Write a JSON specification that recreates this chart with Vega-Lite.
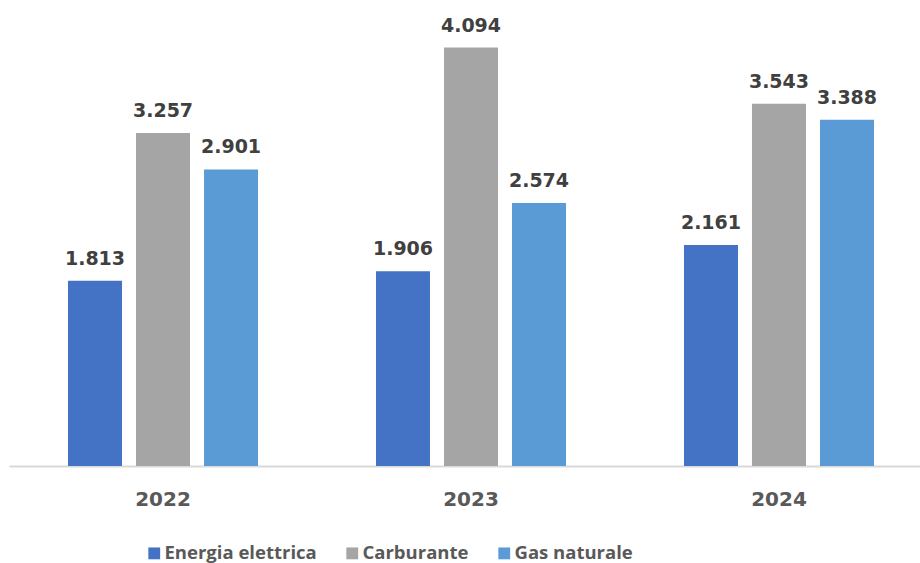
{
  "$schema": "https://vega.github.io/schema/vega-lite/v6.json",
  "autosize": {"type": "none"},
  "width": 911,
  "height": 460,
  "padding": {"left": 9, "top": 6, "right": 0, "bottom": 97},
  "background": "white",
  "data": {
    "values": [
      {"anno": "2022", "voce": "Energia elettrica", "valore": 1.813},
      {"anno": "2022", "voce": "Carburante", "valore": 3.257},
      {"anno": "2022", "voce": "Gas naturale", "valore": 2.901},
      {"anno": "2023", "voce": "Energia elettrica", "valore": 1.906},
      {"anno": "2023", "voce": "Carburante", "valore": 4.094},
      {"anno": "2023", "voce": "Gas naturale", "valore": 2.574},
      {"anno": "2024", "voce": "Energia elettrica", "valore": 2.161},
      {"anno": "2024", "voce": "Carburante", "valore": 3.543},
      {"anno": "2024", "voce": "Gas naturale", "valore": 3.388}
    ]
  },
  "encoding": {
    "x": {
      "field": "anno", "type": "nominal",
      "scale": {"range": [0, 924], "paddingInner": 0.383, "paddingOuter": 0.1916},
      "axis": {
        "title": null, "labelAngle": 0, "ticks": false, "grid": false,
        "domainColor": "#d9d9d9", "domainWidth": 2,
        "labelFont": "DejaVu Sans", "labelFontWeight": "bold", "labelFontSize": 20,
        "labelColor": "#595959", "labelPadding": 23
      }
    },
    "xOffset": {
      "field": "voce", "type": "nominal",
      "sort": ["Energia elettrica", "Carburante", "Gas naturale"],
      "scale": {"paddingInner": 0.206, "paddingOuter": 0}
    },
    "y": {
      "field": "valore", "type": "quantitative",
      "scale": {"domain": [0, 4.5], "nice": false},
      "axis": null
    }
  },
  "layer": [
    {
      "mark": {"type": "bar"},
      "encoding": {
        "color": {
          "field": "voce", "type": "nominal",
          "sort": ["Energia elettrica", "Carburante", "Gas naturale"],
          "scale": {"domain": ["Energia elettrica", "Carburante", "Gas naturale"], "range": ["#4472C4", "#A5A5A5", "#5B9BD5"]},
          "legend": {
            "title": null, "orient": "none", "direction": "horizontal",
            "legendX": 136, "legendY": 538,
            "symbolType": "square", "symbolSize": 140, "symbolStrokeWidth": 0,
            "labelFont": "Open Sans", "labelFontWeight": "bold", "labelFontSize": 18.5,
            "labelColor": "#595959", "labelOffset": 1, "columnPadding": 26
          }
        }
      }
    },
    {
      "mark": {"type": "text", "dy": -16, "baseline": "alphabetic", "font": "DejaVu Sans", "fontWeight": "bold", "fontSize": 19, "color": "#404040"},
      "encoding": {
        "text": {"field": "valore", "type": "quantitative", "format": ".3f"}
      }
    }
  ],
  "config": {"view": {"stroke": null}}
}
